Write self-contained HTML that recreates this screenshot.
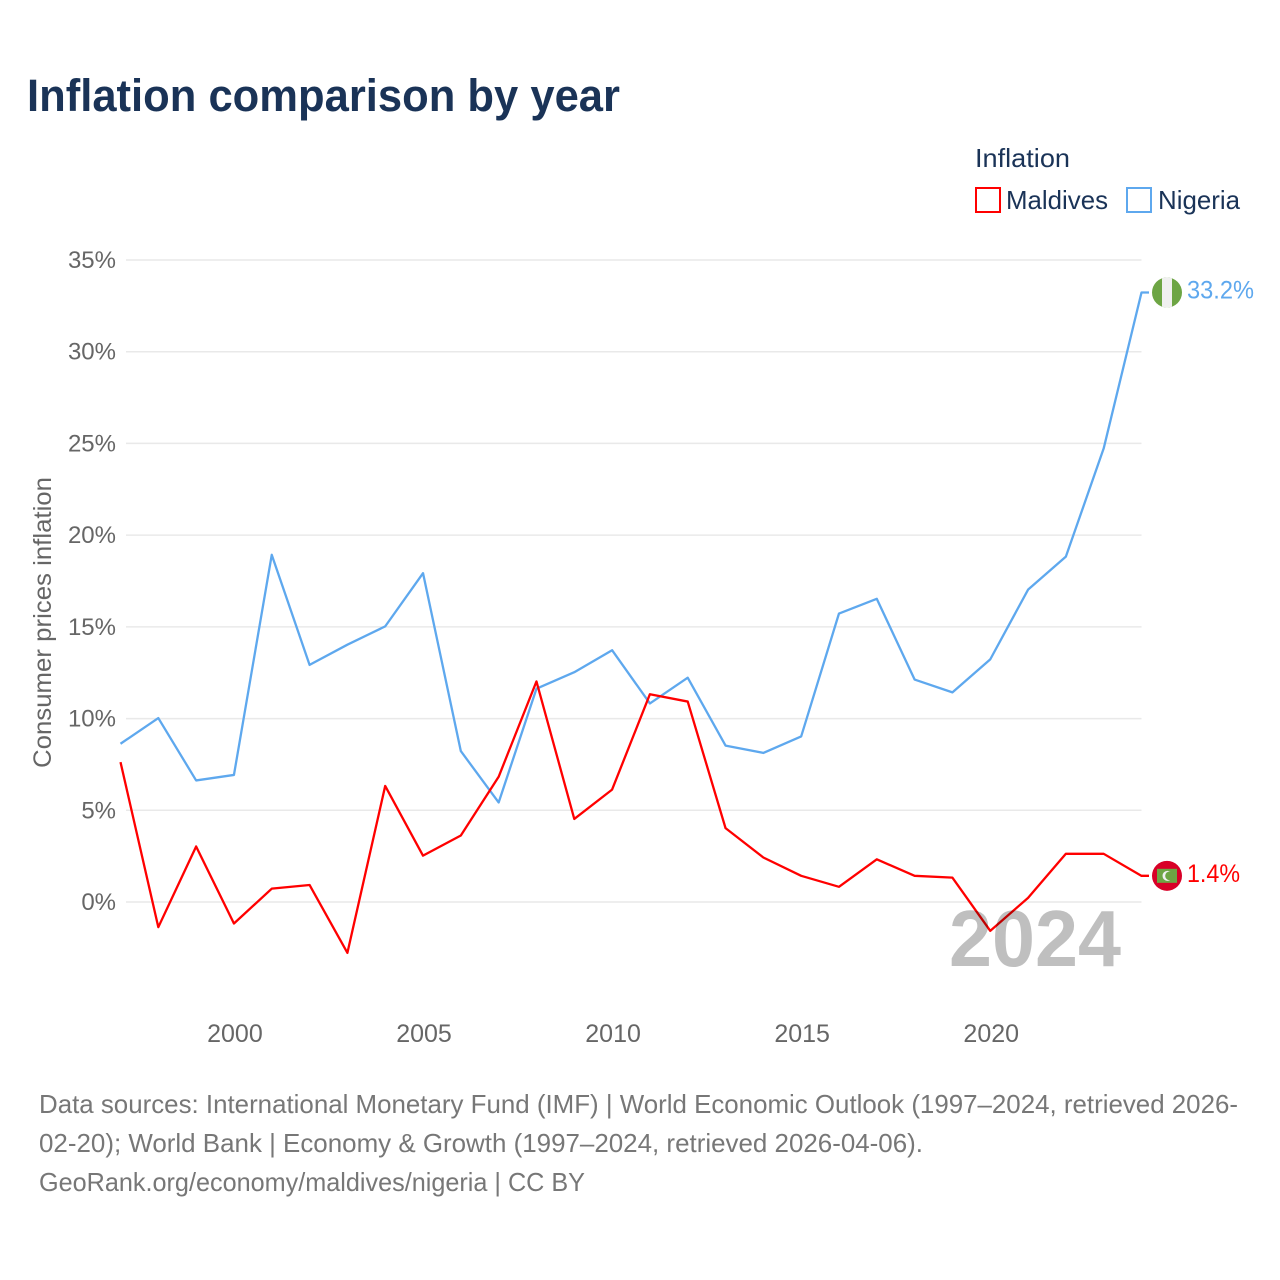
<!DOCTYPE html>
<html lang="en">
<head>
<meta charset="utf-8">
<title>Inflation comparison by year</title>
<style>
html,body{margin:0;padding:0;background:#fff;}
svg{display:block;font-family:"Liberation Sans",sans-serif;}
</style>
</head>
<body>
<svg id="chart" xmlns="http://www.w3.org/2000/svg" width="1280" height="1280" viewBox="0 0 1280 1280">
  <rect x="0" y="0" width="1280" height="1280" fill="#ffffff"/>
  <text x="27" y="111" font-size="45" font-weight="700" fill="#1a3357" textLength="593" lengthAdjust="spacingAndGlyphs">Inflation comparison by year</text>

  <text x="975" y="167" font-size="26" fill="#1a3357" textLength="95" lengthAdjust="spacingAndGlyphs">Inflation</text>
  <rect x="976" y="188" width="24" height="24" fill="none" stroke="#ff0000" stroke-width="2"/>
  <text x="1006" y="209" font-size="26" fill="#1a3357" textLength="102" lengthAdjust="spacingAndGlyphs">Maldives</text>
  <rect x="1127" y="188" width="24" height="24" fill="none" stroke="#5ea8ee" stroke-width="2"/>
  <text x="1158" y="209" font-size="26" fill="#1a3357" textLength="82" lengthAdjust="spacingAndGlyphs">Nigeria</text>

  <text transform="translate(51,768) rotate(-90)" x="0" y="0" font-size="25" fill="#666666" textLength="291" lengthAdjust="spacingAndGlyphs">Consumer prices inflation</text>

  <g id="grid"></g>
  <g id="y-ticks"></g>
  <g id="x-ticks"></g>
  <g id="series"></g>

  <text x="949" y="966" font-size="80" font-weight="700" fill="#000000" fill-opacity="0.25" textLength="172" lengthAdjust="spacingAndGlyphs">2024</text>

  <g id="flag-nigeria">
    <clipPath id="clip-ng"><circle cx="0" cy="0" r="15"/></clipPath>
    <g clip-path="url(#clip-ng)">
      <rect x="-15" y="-15" width="30" height="30" fill="#6da544"/>
      <rect x="-5" y="-15" width="10" height="30" fill="#f0f0f0"/>
    </g>
  </g>
  <g id="flag-maldives">
    <circle cx="0" cy="0" r="15" fill="#d80027"/>
    <rect x="-10" y="-7" width="20" height="14" fill="#6da544"/>
    <circle cx="0.5" cy="0" r="5" fill="#f0f0f0"/>
    <circle cx="2.5" cy="0" r="4.3" fill="#6da544"/>
  </g>
  <text id="value-nigeria" x="1187" font-size="25" fill="#5ea8ee" textLength="67" lengthAdjust="spacingAndGlyphs"></text>
  <text id="value-maldives" x="1187" font-size="25" fill="#ff0000" textLength="53" lengthAdjust="spacingAndGlyphs"></text>

  <g font-size="26" fill="#777777">
    <text x="39" y="1113" textLength="1199" lengthAdjust="spacingAndGlyphs">Data sources: International Monetary Fund (IMF) | World Economic Outlook (1997–2024, retrieved 2026-</text>
    <text x="39" y="1152" textLength="884" lengthAdjust="spacingAndGlyphs">02-20); World Bank | Economy &amp; Growth (1997–2024, retrieved 2026-04-06).</text>
    <text x="39" y="1191" textLength="546" lengthAdjust="spacingAndGlyphs">GeoRank.org/economy/maldives/nigeria | CC BY</text>
  </g>
</svg>
<script>
const years = [1997,1998,1999,2000,2001,2002,2003,2004,2005,2006,2007,2008,2009,2010,2011,2012,2013,2014,2015,2016,2017,2018,2019,2020,2021,2022,2023,2024];
const nigeria = [8.6,10.0,6.6,6.9,18.9,12.9,14.0,15.0,17.9,8.2,5.4,11.6,12.5,13.7,10.8,12.2,8.5,8.1,9.0,15.7,16.5,12.1,11.4,13.2,17.0,18.8,24.7,33.2];
const maldives = [7.6,-1.4,3.0,-1.2,0.7,0.9,-2.8,6.3,2.5,3.6,6.8,12.0,4.5,6.1,11.3,10.9,4.0,2.4,1.4,0.8,2.3,1.4,1.3,-1.6,0.2,2.6,2.6,1.4];
const yTickValues = [0,5,10,15,20,25,30,35];
const xTickValues = [2000,2005,2010,2015,2020];

const NS = 'http://www.w3.org/2000/svg';
function xScale(year){ return 120.5 + (year - 1997) * (1141.5 - 120.5) / 27; }
function yScale(value){ return 902 - value * (902 - 260) / 35; }
function make(tag, parent){ const el = document.createElementNS(NS, tag); parent.appendChild(el); return el; }

const grid = document.getElementById('grid');
const yTicks = document.getElementById('y-ticks');
yTickValues.forEach(function(v){
  const line = make('line', grid);
  
  
  line.setAttribute('x1', 126);
  line.setAttribute('x2', 1141.5);
  line.setAttribute('y1', yScale(v));
  line.setAttribute('y2', yScale(v));
  line.setAttribute('stroke', '#e9e9e9');
  line.setAttribute('stroke-width', '1.5');
  const t = make('text', yTicks);
  
  
  t.setAttribute('x', 116);
  t.setAttribute('y', yScale(v) + 8);
  t.setAttribute('text-anchor', 'end');
  t.setAttribute('font-size', '24');
  t.setAttribute('fill', '#666666');
  t.textContent = v + '%';
});

const xTicks = document.getElementById('x-ticks');
xTickValues.forEach(function(y){
  const t = make('text', xTicks);
  
  
  t.setAttribute('x', xScale(y) + 1);
  t.setAttribute('y', 1042);
  t.setAttribute('text-anchor', 'middle');
  t.setAttribute('font-size', '25');
  t.setAttribute('fill', '#666666');
  t.textContent = y;
});

const seriesGroup = document.getElementById('series');
function drawSeries(values, color, name){
  const pts = values.map(function(v, i){ return xScale(years[i]).toFixed(2) + ',' + (yScale(v) - 0.5).toFixed(2); });
  const last = values[values.length - 1];
  pts.push('1149,' + (yScale(last) - 0.5).toFixed(2));
  const line = make('polyline', seriesGroup);
  
  
  line.setAttribute('points', pts.join(' '));
  line.setAttribute('fill', 'none');
  line.setAttribute('stroke', color);
  line.setAttribute('stroke-width', '2.3');
  line.setAttribute('stroke-linejoin', 'round');
}
drawSeries(nigeria, '#5ea8ee', 'line-nigeria');
drawSeries(maldives, '#ff0000', 'line-maldives');

function placeEnd(flagId, labelId, values){
  const last = values[values.length - 1];
  const y = yScale(last) - 0.5;
  document.getElementById(flagId).setAttribute('transform', 'translate(1167,' + y + ')');
  const label = document.getElementById(labelId);
  label.setAttribute('y', y + 6);
  label.textContent = last.toFixed(1) + '%';
}
placeEnd('flag-nigeria', 'value-nigeria', nigeria);
placeEnd('flag-maldives', 'value-maldives', maldives);
</script>
</body>
</html>
